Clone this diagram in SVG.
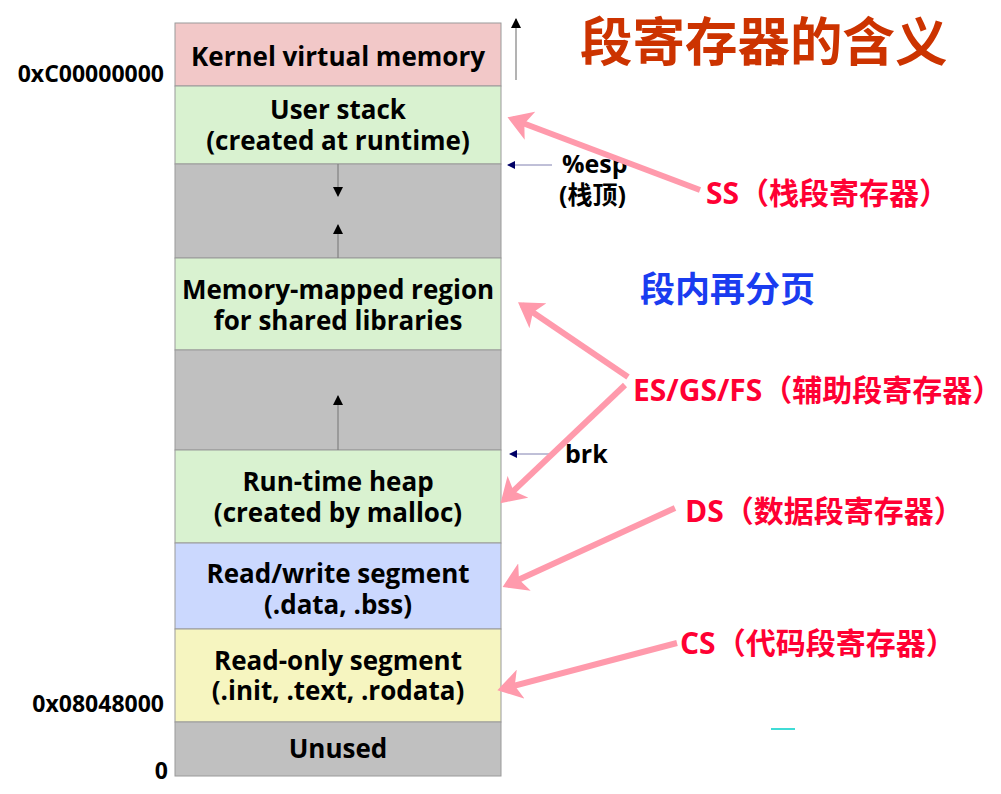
<svg xmlns="http://www.w3.org/2000/svg" width="1001" height="794" viewBox="0 0 1001 794">
<style>
.seg{stroke:#9a9a9a;stroke-width:1}
.t{font-family:"Open Sans","Noto Sans CJK SC",sans-serif;font-weight:bold;font-size:26px;fill:#000;text-anchor:middle}
.addr{font-family:"Open Sans","Noto Sans CJK SC",sans-serif;font-weight:bold;font-size:23px;fill:#000;text-anchor:end}
.lbl{font-family:"Open Sans","Noto Sans CJK SC",sans-serif;font-weight:bold;font-size:25px;fill:#000}
.reg{font-family:"Open Sans","Noto Sans CJK SC",sans-serif;font-weight:bold;font-size:30px;fill:#ff0033}
.pk{stroke:#ff9aac;stroke-width:6;fill:none}
.gl{stroke:#808080;stroke-width:1.2}
.nv{stroke:#8080b0;stroke-width:1}
</style>
<defs>
<marker id="pa" markerWidth="5" markerHeight="5" refX="3.2" refY="2.5" orient="auto" markerUnits="strokeWidth"><path d="M0,0 L4,2.5 L0,5 L1,2.5 Z" fill="#ff9aac"/></marker>
<marker id="ba" markerWidth="10" markerHeight="10" refX="9" refY="5" orient="auto" markerUnits="userSpaceOnUse"><path d="M0,0 L10,5 L0,10 Z" fill="#000"/></marker>
<marker id="na" markerWidth="8" markerHeight="8" refX="7" refY="4" orient="auto" markerUnits="userSpaceOnUse"><path d="M0,4 L8,0 L8,8 Z" fill="#000066" transform="rotate(180 4 4)"/></marker>
</defs>

<g id="kernel"><rect class="seg" x="175" y="23" width="326" height="63" fill="#f2c8c8"/><text class="t" x="338" y="66">Kernel virtual memory</text></g>
<g id="userstack"><rect class="seg" x="175" y="86" width="326" height="78" fill="#d9f2d0"/><text class="t" x="338" y="119">User stack</text><text class="t" x="338" y="150">(created at runtime)</text></g>
<g id="gap1"><rect class="seg" x="175" y="164" width="326" height="94" fill="#c0c0c0"/></g>
<g id="mmap"><rect class="seg" x="175" y="258" width="326" height="92" fill="#d9f2d0"/><text class="t" x="338" y="299">Memory-mapped region</text><text class="t" x="338" y="330">for shared libraries</text></g>
<g id="gap2"><rect class="seg" x="175" y="350" width="326" height="100" fill="#c0c0c0"/></g>
<g id="heap"><rect class="seg" x="175" y="450" width="326" height="93" fill="#d9f2d0"/><text class="t" x="338" y="491">Run-time heap</text><text class="t" x="338" y="522">(created by malloc)</text></g>
<g id="rw"><rect class="seg" x="175" y="543" width="326" height="86" fill="#cbd8fe"/><text class="t" x="338" y="583">Read/write segment</text><text class="t" x="338" y="614">(.data, .bss)</text></g>
<g id="ro"><rect class="seg" x="175" y="629" width="326" height="93" fill="#f6f5c0"/><text class="t" x="338" y="670">Read-only segment</text><text class="t" x="338" y="700">(.init, .text, .rodata)</text></g>
<g id="unused"><rect class="seg" x="175" y="722" width="326" height="54" fill="#c0c0c0"/><text class="t" x="338" y="758">Unused</text></g>

<g id="addresses">
<text class="addr" x="164" y="82">0xC00000000</text>
<text class="addr" x="164" y="712">0x08048000</text>
<text class="addr" x="168" y="779">0</text>
</g>

<g id="title"><text x="580" y="61" font-family="'Noto Sans CJK SC',sans-serif" font-weight="bold" font-size="52.5" fill="#cc3300">段寄存器的含义</text></g>
<g id="subtitle"><text x="640" y="302" font-family="'Noto Sans CJK SC',sans-serif" font-weight="bold" font-size="35" fill="#1a3cf0">段内再分页</text></g>

<g id="esp-label"><text class="lbl" x="562" y="173">%esp</text><text class="lbl" x="559" y="204">(栈顶)</text></g>
<g id="brk-label"><text class="lbl" x="565" y="463">brk</text></g>

<g id="ss-label"><text class="reg" x="706" y="204">SS（栈段寄存器）</text></g>
<g id="es-label"><text class="reg" x="633" y="401" font-size="29">ES/GS/FS（辅助段寄存器）</text></g>
<g id="ds-label"><text class="reg" x="685" y="522">DS（数据段寄存器）</text></g>
<g id="cs-label"><text class="reg" x="680" y="654">CS（代码段寄存器）</text></g>

<g id="connectors">
<line class="gl" x1="516" y1="80" x2="516" y2="19" marker-end="url(#ba)"/>
<line class="gl" x1="338" y1="164" x2="338" y2="196" marker-end="url(#ba)"/>
<line class="gl" x1="338" y1="258" x2="338" y2="225" marker-end="url(#ba)"/>
<line class="gl" x1="338" y1="450" x2="338" y2="396" marker-end="url(#ba)"/>
<line class="nv" x1="552" y1="165" x2="508" y2="165" marker-end="url(#na)"/>
<line class="nv" x1="550" y1="454" x2="510" y2="454" marker-end="url(#na)"/>
<line class="pk" x1="700" y1="190" x2="512" y2="119" marker-end="url(#pa)"/>
<line class="pk" x1="628" y1="377" x2="522" y2="305" marker-end="url(#pa)"/>
<line class="pk" x1="625" y1="385" x2="504" y2="500" marker-end="url(#pa)"/>
<line class="pk" x1="675" y1="508" x2="507" y2="585" marker-end="url(#pa)"/>
<line class="pk" x1="677" y1="643" x2="502" y2="689" marker-end="url(#pa)"/>
<line x1="771" y1="729" x2="795" y2="729" stroke="#00d0c8" stroke-width="1.5"/>
</g>
</svg>
